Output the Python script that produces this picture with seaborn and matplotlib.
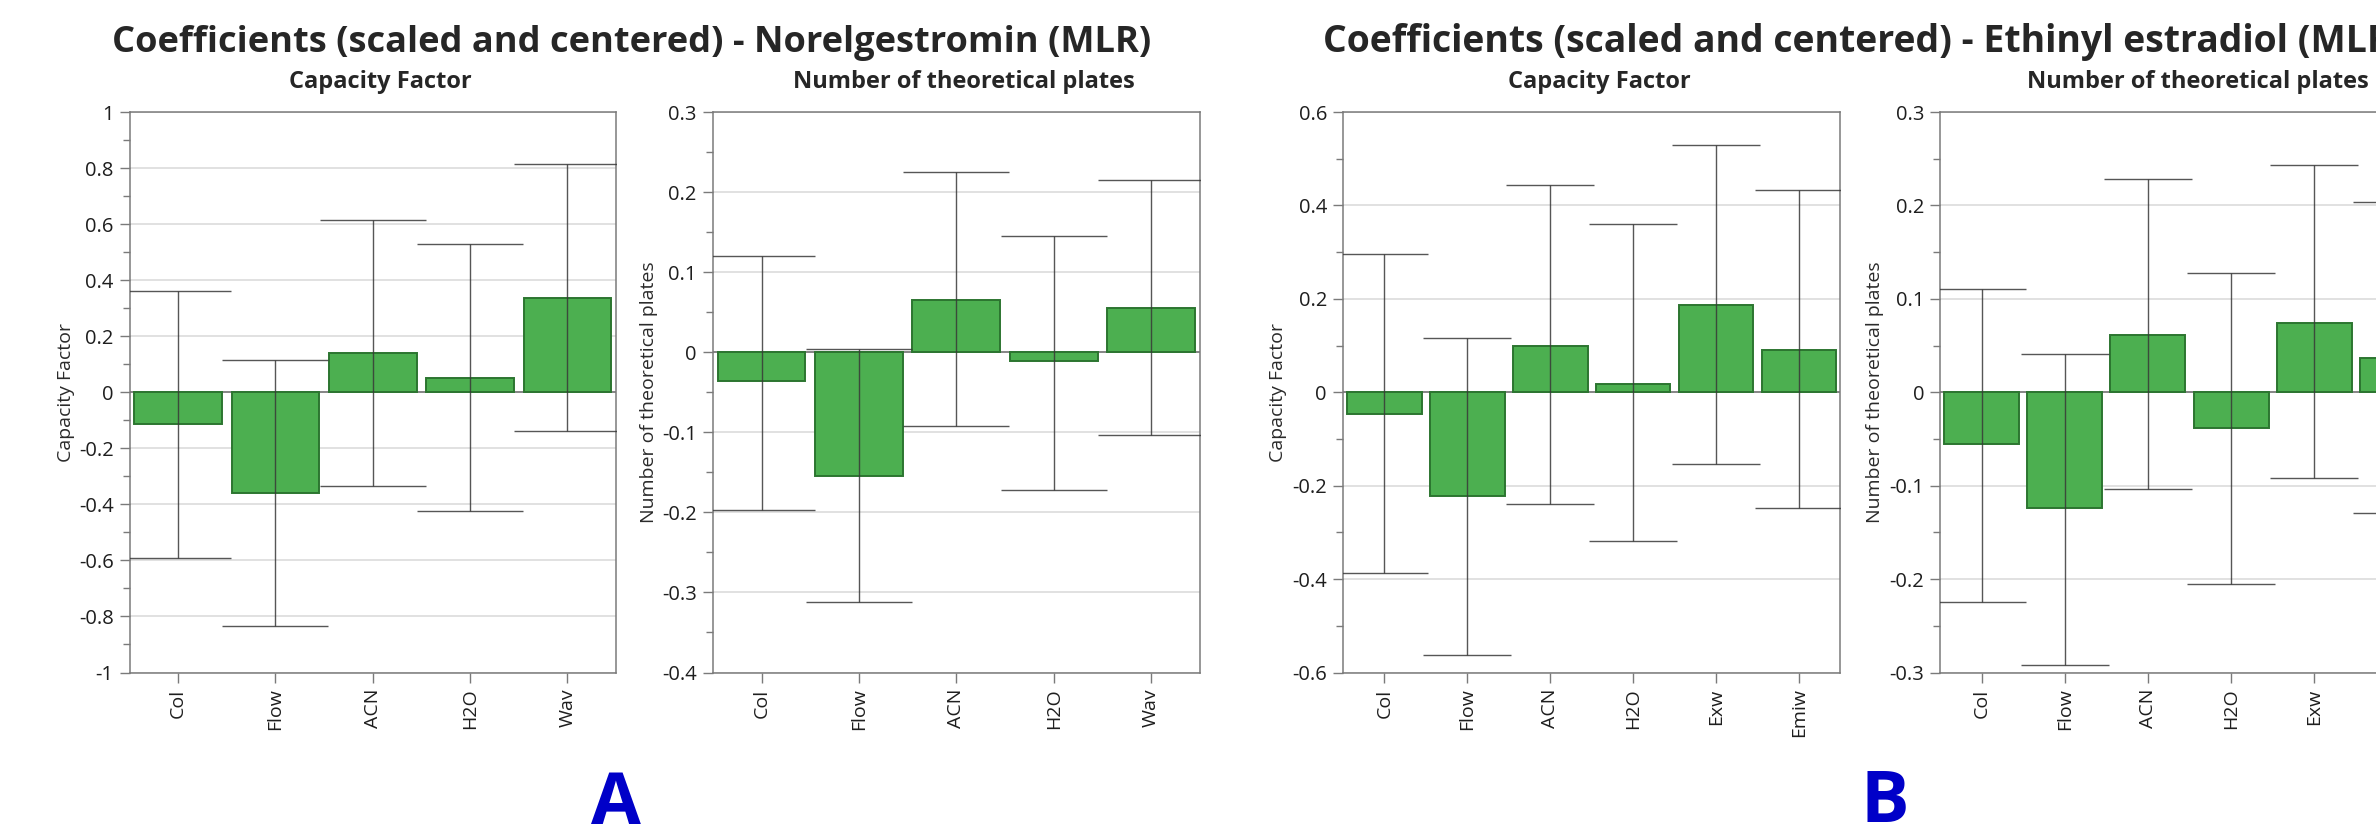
import numpy as np
import matplotlib
matplotlib.use("Agg")
import matplotlib.pyplot as plt
from matplotlib.ticker import MultipleLocator, FuncFormatter
import seaborn as sns

sns.set_style("white")
plt.rcParams['font.family'] = ['Open Sans', 'DejaVu Sans']

# factors on the x axis
factors_a = ["Col", "Flow", "ACN", "H2O", "Wav"]
factors_b = ["Col", "Flow", "ACN", "H2O", "Exw", "Emiw"]

# A - Norelgestromin, capacity factor
cf_a = [-0.115, -0.36, 0.14, 0.05, 0.335]
cf_a_lo = [-0.59, -0.835, -0.335, -0.425, -0.14]
cf_a_hi = [0.36, 0.115, 0.615, 0.53, 0.815]

# A - Norelgestromin, number of theoretical plates
ntp_a = [-0.036, -0.155, 0.065, -0.011, 0.055]
ntp_a_lo = [-0.197, -0.312, -0.092, -0.172, -0.104]
ntp_a_hi = [0.12, 0.004, 0.225, 0.145, 0.215]

# B - Ethinyl estradiol, capacity factor
cf_b = [-0.046, -0.222, 0.10, 0.017, 0.187, 0.091]
cf_b_lo = [-0.387, -0.562, -0.24, -0.318, -0.153, -0.248]
cf_b_hi = [0.295, 0.117, 0.443, 0.36, 0.53, 0.434]

# B - Ethinyl estradiol, number of theoretical plates
ntp_b = [-0.055, -0.124, 0.061, -0.038, 0.074, 0.037]
ntp_b_lo = [-0.224, -0.292, -0.104, -0.205, -0.092, -0.129]
ntp_b_hi = [0.11, 0.041, 0.228, 0.128, 0.243, 0.204]

W, H = 2376, 832
fig = plt.figure(figsize=(W / 100, H / 100), dpi=100)

bar_col = "#4caf50"
edge_col = "#2c7530"

# (left px, width px, factors, coef, lo, hi, ylim, major, minor, label, capsize)
panels = [
    (129.5, 486.5, factors_a, cf_a, cf_a_lo, cf_a_hi, (-1, 1), 0.2, 0.1, "Capacity Factor", 38),
    (712.8, 487.0, factors_a, ntp_a, ntp_a_lo, ntp_a_hi, (-0.4, 0.3), 0.1, 0.05, "Number of theoretical plates", 38),
    (1342.9, 497.5, factors_b, cf_b, cf_b_lo, cf_b_hi, (-0.6, 0.6), 0.2, 0.1, "Capacity Factor", 32),
    (1940.0, 499.0, factors_b, ntp_b, ntp_b_lo, ntp_b_hi, (-0.3, 0.3), 0.1, 0.05, "Number of theoretical plates", 32),
]

top, bottom = 112, 672.5
for left, width, fac, coef, lo, hi, ylim, major, minor, label, cap in panels:
    ax = fig.add_axes([left / W, 1 - bottom / H, width / W, (bottom - top) / H])
    sns.barplot(x=fac, y=coef, color=bar_col, saturation=1, width=0.9,
                edgecolor=edge_col, linewidth=1.4, errorbar=None, ax=ax, zorder=2)
    coef = np.array(coef)
    xs = np.arange(len(fac))
    ax.errorbar(xs, coef, yerr=[coef - np.array(lo), np.array(hi) - coef], fmt="none",
                ecolor="#383838", elinewidth=1.0, capsize=cap, capthick=1.0, alpha=0.85, zorder=3)
    ax.axhline(0, color="#6e6e6e", lw=1.1, zorder=1.5)
    ax.set_xlim(-0.5, len(fac) - 0.5)
    ax.set_ylim(*ylim)
    ax.yaxis.set_major_locator(MultipleLocator(major))
    ax.yaxis.set_minor_locator(MultipleLocator(minor))
    ax.yaxis.set_major_formatter(FuncFormatter(lambda v, p: "%g" % round(v, 3)))
    ax.yaxis.grid(True, which="major", color="#dedede", lw=1.3)
    ax.set_axisbelow(True)
    for s in ax.spines.values():
        s.set_color("#7a7a7a")
        s.set_linewidth(1.1)
    ax.tick_params(axis="y", which="major", length=7.5, width=1.0, color="#7a7a7a",
                   labelsize=14.5, labelcolor="#1e1e1e", pad=4, left=True)
    ax.tick_params(axis="y", which="minor", length=5, width=1.0, color="#7a7a7a", left=True)
    ax.tick_params(axis="x", length=7, width=1.0, color="#7a7a7a", labelsize=14,
                   labelcolor="#1e1e1e", pad=4.5, bottom=True)
    plt.setp(ax.get_xticklabels(), rotation=90)
    ax.set_ylabel(label, fontsize=14, color="#2a2a2a")
    ax.yaxis.set_label_coords(-0.112, 0.5)
    ax.set_title(label, fontsize=17, fontweight="bold", pad=17, x=0.516)

# headline titles and panel letters
t_a = fig.text(111.6 / W, 1 - 52 / H, "Coefficients (scaled and centered) - Norelgestromin (MLR)",
               fontsize=24, fontweight="bold", ha="left", va="baseline")
fig.canvas.draw()
size = 24 * 1040 / t_a.get_window_extent().width
t_a.set_fontsize(size)
fig.text(1322.6 / W, 1 - 52 / H, "Coefficients (scaled and centered) - Ethinyl estradiol (MLR)",
         fontsize=size * 1.03, fontweight="bold", ha="left", va="baseline")

fig.text(616 / W, 1 - 824 / H, "A", fontsize=52, fontweight="bold", color="#0000c8",
         ha="center", va="baseline")
fig.text(1884.5 / W, 1 - 822 / H, "B", fontsize=52, fontweight="bold", color="#0000c8",
         ha="center", va="baseline")

fig.savefig("out.png", dpi=100)
